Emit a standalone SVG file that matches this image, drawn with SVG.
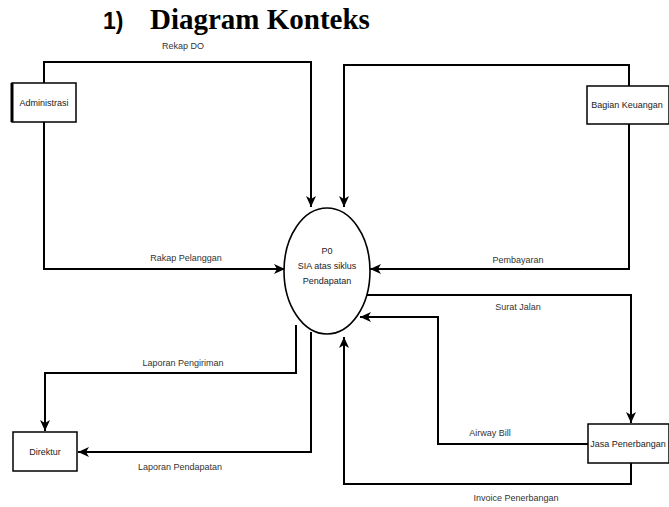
<svg xmlns="http://www.w3.org/2000/svg" width="669" height="507" viewBox="0 0 669 507">
<style>
.box{fill:#fff;stroke:#000;stroke-width:1.5}
.ln{fill:none;stroke:#000;stroke-width:2;marker-end:url(#ah)}
.lbl{font-family:"Liberation Sans",Arial,sans-serif;font-size:9px;fill:#333;text-anchor:middle}
.nt{font-family:"Liberation Sans",Arial,sans-serif;font-size:9px;fill:#222;text-anchor:middle}
</style>
<defs>
<marker id="ah" markerUnits="userSpaceOnUse" markerWidth="12" markerHeight="12" refX="11" refY="6" orient="auto">
<path d="M0,1 L11,6 L0,11 L3,6 z" fill="#000"/>
</marker>
</defs>
<rect width="669" height="507" fill="#fff"/>
<g id="title">
<text x="103" y="29" font-family="Liberation Sans,Arial,sans-serif" font-weight="bold" font-size="23">1)</text>
<text x="150" y="29" font-family="Liberation Serif,Times New Roman,serif" font-weight="bold" font-size="29">Diagram Konteks</text>
</g>
<g id="connectors">
<path class="ln" d="M44,83 V62 H311 V207"/>
<text class="lbl" x="183" y="49">Rekap DO</text>
<path class="ln" d="M629,86 V65 H344 V207"/>
<path class="ln" d="M44,122 V269 H285"/>
<text class="lbl" x="186" y="261">Rakap Pelanggan</text>
<path class="ln" d="M629,124 V269 H370"/>
<text class="lbl" x="518" y="263">Pembayaran</text>
<path class="ln" d="M367,295 H631 V423"/>
<text class="lbl" x="518" y="310">Surat Jalan</text>
<path class="ln" d="M588,444 H438 V317 H360"/>
<text class="lbl" x="490" y="436">Airway Bill</text>
<path class="ln" d="M631,463 V484 H344 V337"/>
<text class="lbl" x="516" y="501">Invoice Penerbangan</text>
<path class="ln" d="M296,325 V373 H45 V431"/>
<text class="lbl" x="183" y="366">Laporan Pengiriman</text>
<path class="ln" d="M311,332 V452 H78"/>
<text class="lbl" x="180" y="470">Laporan Pendapatan</text>
</g>
<g id="proses">
<ellipse cx="327" cy="271" rx="43" ry="63" fill="#fff" stroke="#000" stroke-width="1.6"/>
<text class="nt" x="327" y="254">P0</text>
<text class="nt" x="327" y="269">SIA atas siklus</text>
<text class="nt" x="327" y="284">Pendapatan</text>
</g>
<g id="administrasi">
<rect class="box" x="12" y="83" width="64" height="39"/>
<line x1="12" y1="83" x2="12" y2="122" stroke="#000" stroke-width="3"/>
<text class="nt" x="44" y="106">Administrasi</text>
</g>
<g id="bagian-keuangan">
<rect class="box" x="587" y="86" width="82" height="38"/>
<text class="nt" x="627" y="108">Bagian Keuangan</text>
</g>
<g id="jasa-penerbangan">
<rect class="box" x="588" y="424" width="81" height="39"/>
<text class="nt" x="628" y="447">Jasa Penerbangan</text>
</g>
<g id="direktur">
<rect class="box" x="13" y="432" width="64" height="39"/>
<text class="nt" x="45" y="455">Direktur</text>
</g>
</svg>
